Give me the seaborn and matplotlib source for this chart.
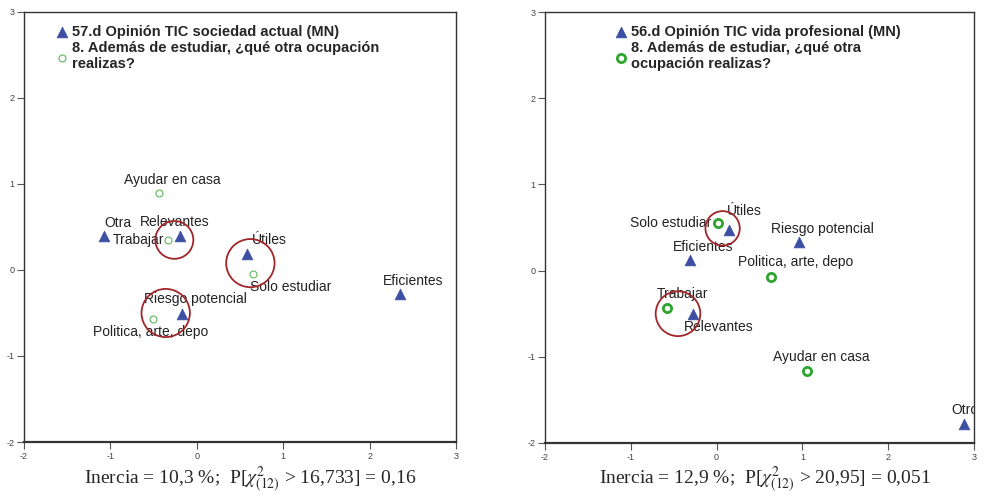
import matplotlib
matplotlib.use("Agg")
import matplotlib.pyplot as plt
from matplotlib.patches import Circle
import seaborn as sns
import pandas as pd

# --- left panel: 57.d Opinión TIC sociedad actual ---
left_tri_labels = ["Otra", "Relevantes", "Útiles", "Riesgo potencial", "Eficientes"]
left_tri_x = [-1.07, -0.19, 0.58, -0.17, 2.35]
left_tri_y = [0.40, 0.40, 0.19, -0.51, -0.28]
left_circ_labels = ["Ayudar en casa", "Trabajar", "Solo estudiar", "Politica, arte, depo"]
left_circ_x = [-0.44, -0.33, 0.65, -0.51]
left_circ_y = [0.90, 0.35, -0.05, -0.57]
left_rings = [(-0.26, 0.35, 0.22), (0.62, 0.08, 0.28), (-0.36, -0.50, 0.28)]

# --- right panel: 56.d Opinión TIC vida profesional ---
right_tri_labels = ["Útiles", "Riesgo potencial", "Eficientes", "Relevantes", "Otro"]
right_tri_x = [0.15, 0.96, -0.31, -0.28, 2.88]
right_tri_y = [0.47, 0.33, 0.12, -0.50, -1.78]
right_circ_labels = ["Solo estudiar", "Politica, arte, depo", "Trabajar", "Ayudar en casa"]
right_circ_x = [0.02, 0.63, -0.58, 1.05]
right_circ_y = [0.55, -0.08, -0.43, -1.16]
right_rings = [(0.07, 0.49, 0.20), (-0.45, -0.50, 0.26)]

# label offsets in pixels (text left edge / vertical centre relative to point)
left_tri_off = [(0, 13), (-41, 14), (5, 14), (-38, 15), (-17, 13)]
left_circ_off = [(-35, 13), (-56, 0), (-3, -13), (-60, -13)]
right_tri_off = [(-3, 19), (-28, 13), (-17, 13), (-9, -13), (-12, 14)]
right_circ_off = [(-88, 0), (-33, 15), (-10, 14), (-34, 14)]

blue = "#3d4fa3"
red = "#a0262a"

sns.set_style("white")
plt.rcParams["font.family"] = ["Liberation Sans", "DejaVu Sans"]
plt.rcParams["mathtext.fontset"] = "stix"
plt.rcParams["axes.unicode_minus"] = False

fig = plt.figure(figsize=(9.85, 4.95), dpi=100)
ax1 = fig.add_axes([24 / 985, 1 - 442 / 495, 432 / 985, 430 / 495])
ax2 = fig.add_axes([545 / 985, 1 - 443 / 495, 429 / 985, 431 / 495])


def panel(ax, tri_lab, tx, ty, circ_lab, cx, cy, rings, toff, coff, title, circ_title,
          green, csize, clw, leg_x):
    tri = pd.DataFrame({"x": tx, "y": ty})
    circ = pd.DataFrame({"x": cx, "y": cy})
    sns.scatterplot(data=tri, x="x", y="y", marker="^", s=60, color=blue,
                    edgecolor=blue, linewidth=0.5, ax=ax, label=title, zorder=3)
    sns.scatterplot(data=circ, x="x", y="y", marker="o", s=csize, facecolor="white",
                    edgecolor=green, linewidth=clw, ax=ax, label=circ_title, zorder=3)
    for lab, x, y, off in zip(tri_lab, tx, ty, toff):
        ax.annotate(lab, (x, y), xytext=off, textcoords="offset pixels",
                    ha="left", va="center", fontsize=10, color="#222222",
                    annotation_clip=False, clip_on=True)
    for lab, x, y, off in zip(circ_lab, cx, cy, coff):
        ax.annotate(lab, (x, y), xytext=off, textcoords="offset pixels",
                    ha="left", va="center", fontsize=10, color="#222222")
    for x, y, r in rings:
        ax.add_patch(Circle((x, y), r, fill=False, edgecolor=red, lw=1.3, zorder=4))
    ax.set_xlim(-2, 3)
    ax.set_ylim(-2, 3)
    ax.set_xticks(range(-2, 4))
    ax.set_yticks(range(-2, 4))
    ax.set_xlabel("")
    ax.set_ylabel("")
    ax.tick_params(axis="both", which="major", direction="out", length=5, width=0.8,
                   color="#555555", labelsize=6.5, labelcolor="#444444",
                   bottom=True, left=True, pad=2)
    for s in ax.spines.values():
        s.set_color("#333333")
        s.set_linewidth(1.0)
    ax.spines["bottom"].set_linewidth(1.6)
    ax.legend(loc="upper left", bbox_to_anchor=(leg_x, 0.99), frameon=False,
              handlelength=0.7, handletextpad=0.35, labelspacing=0.15,
              borderaxespad=0.2, prop={"weight": "bold", "size": 10.5})


panel(ax1, left_tri_labels, left_tri_x, left_tri_y, left_circ_labels, left_circ_x,
      left_circ_y, left_rings, left_tri_off, left_circ_off,
      "57.d Opinión TIC sociedad actual (MN)",
      "8. Además de estudiar, ¿qué otra ocupación\nrealizas?",
      "#5cb85c", 25, 0.8, 0.055)
panel(ax2, right_tri_labels, right_tri_x, right_tri_y, right_circ_labels, right_circ_x,
      right_circ_y, right_rings, right_tri_off, right_circ_off,
      "56.d Opinión TIC vida profesional (MN)",
      "8. Además de estudiar, ¿qué otra\nocupación realizas?",
      "#2fa52f", 35, 2.0, 0.145)

serif = ["Liberation Serif", "DejaVu Serif"]
fig.text(250 / 985, 1 - 484 / 495,
         r"Inercia = 10,3 %;  P[$\chi^2_{(12)}$ > 16,733] = 0,16",
         ha="center", va="baseline", fontsize=14, family=serif)
fig.text(765 / 985, 1 - 484 / 495,
         r"Inercia = 12,9 %;  P[$\chi^2_{(12)}$ > 20,95] = 0,051",
         ha="center", va="baseline", fontsize=14, family=serif)

fig.savefig("out.png", dpi=100)
